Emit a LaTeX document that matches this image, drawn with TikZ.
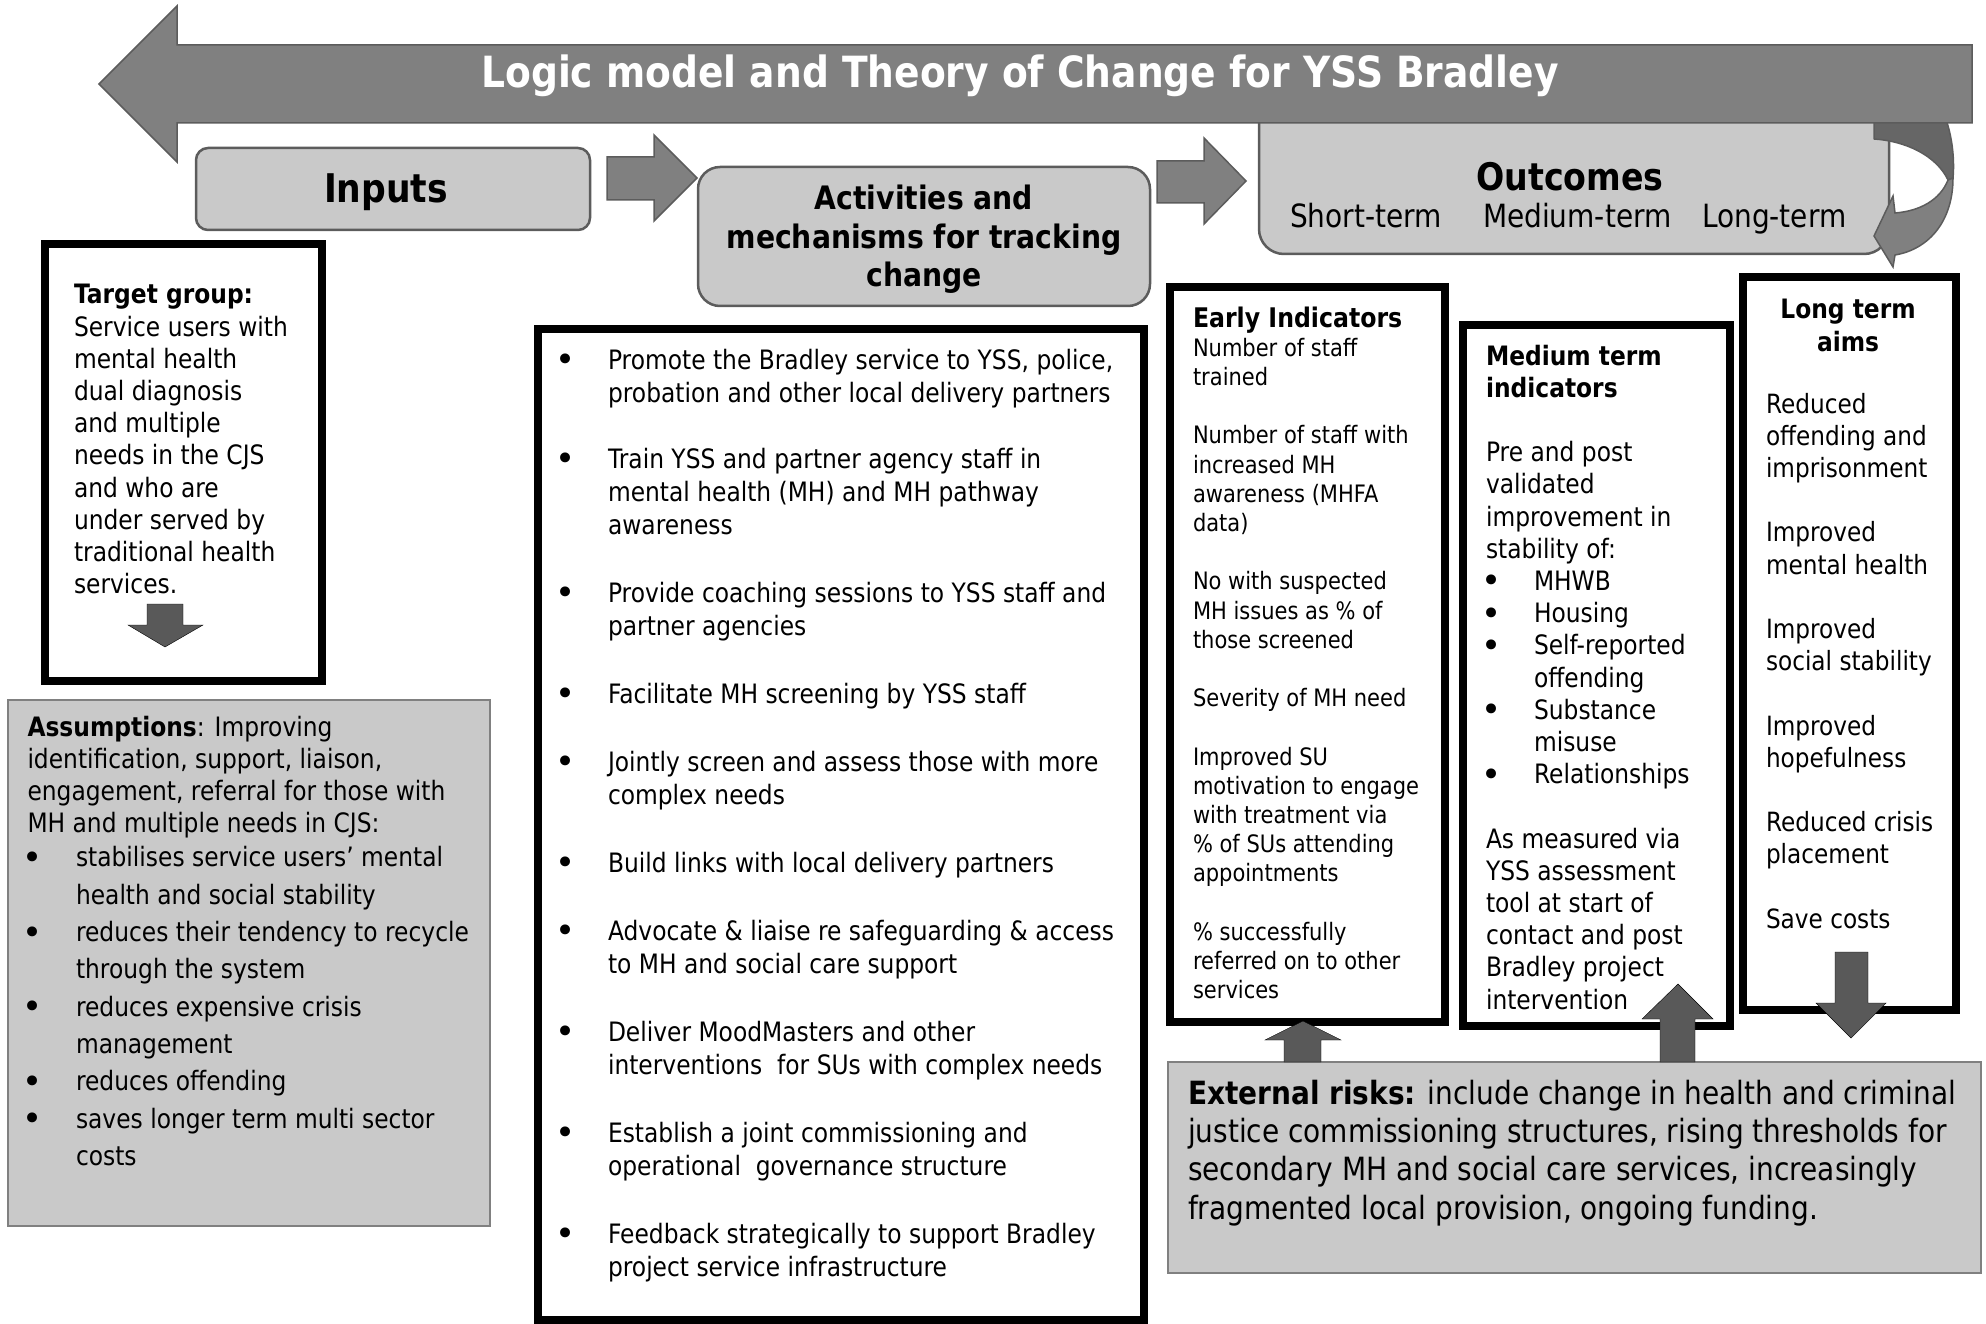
\documentclass[tikz,border=0pt]{standalone}
\usepackage{fontspec}
\setmainfont{DejaVu Sans}[FakeStretch=0.875]
\newfontfamily\dotfont{DejaVu Sans}
\definecolor{arrowgray}{RGB}{128,128,128}
\definecolor{edgegray}{RGB}{92,92,92}
\definecolor{panelgray}{RGB}{201,201,201}
\definecolor{solidgray}{RGB}{89,89,89}
\definecolor{curvedark}{RGB}{102,102,102}
\newcommand{\fs}[2]{\fontsize{#1pt}{#2pt}\selectfont}
\newcommand{\bu}[1]{\makebox[#1pt][l]{\hspace*{-5pt}\raisebox{-2.5pt}{\dotfont\fontsize{34pt}{34pt}\selectfont\textbullet}}}
\newcommand{\ind}[1]{\hspace*{#1pt}}
\begin{document}
\begin{tikzpicture}[x=1pt,y=-1pt,
  headbox/.style={draw=edgegray, line width=2.5pt, fill=panelgray},
  framebox/.style={draw=black, line width=8pt},
  notebox/.style={draw=arrowgray, line width=2pt, fill=panelgray},
  blockarrow/.style={fill=arrowgray, draw=edgegray, line width=1.5pt, line join=miter},
  solidarrow/.style={fill=solidgray},
  txt/.style={inner sep=0pt, outer sep=0pt, anchor=base west},
  ctxt/.style={inner sep=0pt, outer sep=0pt, anchor=base}]
\useasboundingbox (0,0) rectangle (1986,1324);

% Outcomes header box (top edge runs under the banner arrow)
\draw[headbox, rounded corners=25pt] (1259,80) rectangle (1889,254);

% curved feedback arrow on the right of the outcomes box
\draw[fill=curvedark, draw=edgegray, line width=1.5pt, line join=round]
  (1874,112) -- (1874,139) .. controls (1905,141) and (1936,155) .. (1948,180)
  -- (1953,178) .. controls (1955,155) and (1951,130) .. (1943,112) -- cycle;
\draw[fill=arrowgray, draw=edgegray, line width=1.5pt, line join=miter]
  (1948,180) .. controls (1940,200) and (1920,211) .. (1895,213)
  -- (1893,196) -- (1874,236) -- (1893,267) -- (1895,255)
  .. controls (1930,249) and (1953,220) .. (1953,178) -- cycle;

% banner arrow with the title
\draw[blockarrow] (99,84) -- (177,6) -- (177,45) -- (1972,45) -- (1972,123)
  -- (177,123) -- (177,162) -- cycle;
\node[ctxt, text=white] (title) at (1020,88)
  {\fs{43}{50}\textbf{Logic model and Theory of Change for YSS Bradley}};

% stage headers
\draw[headbox, rounded corners=12pt] (196,148) rectangle (590,230);
\node[ctxt] (inputs) at (386,203) {\fs{39.5}{46}\textbf{Inputs}};

\draw[headbox, rounded corners=22pt] (698,167) rectangle (1150,306);
\node[ctxt] (activities) at (924,210)
  {\parbox[t]{440pt}{\centering\fs{32.3}{38.5}\textbf{Activities and\\mechanisms for tracking\\change}}};

\node[ctxt] (outcomes) at (1570,191) {\fs{38}{44}\textbf{Outcomes}};
\node[txt] (short) at (1290,228) {\fs{32}{38}Short-term};
\node[txt] (medium) at (1483,228) {\fs{32}{38}Medium-term};
\node[txt] (long) at (1702,228) {\fs{32}{38}Long-term};

% flow arrows between the stage headers
\draw[blockarrow] (607,157) -- (654,157) -- (654,135) -- (697,178)
  -- (654,221) -- (654,200) -- (607,200) -- cycle;
\draw[blockarrow] (1157,161) -- (1204,161) -- (1204,138) -- (1246,181)
  -- (1204,224) -- (1204,203) -- (1157,203) -- cycle;

% target group
\draw[framebox] (45,244) rectangle (322,681);
\node[txt] (target) at (74,304)
  {\parbox[t]{260pt}{\raggedright\fs{26.7}{32.2}\textbf{Target group:}\\Service users with\\mental health\\dual diagnosis\\and multiple\\needs in the CJS\\and who are\\under served by\\traditional health\\services.}};
\draw[solidarrow] (147,604) -- (183,604) -- (183,625) -- (203,625) -- (165,647)
  -- (128,625) -- (147,625) -- cycle;

% assumptions
\draw[notebox] (8,700) rectangle (490,1226);
\node[txt] (assumptions) at (27.5,736)
  {\parbox[t]{460pt}{\raggedright\fs{26.7}{32.2}\textbf{Assumptions}: Improving\\identification, support, liaison,\\engagement, referral for those with\\MH and multiple needs in CJS:\par\vspace{-3pt}
  \fs{26.7}{37.3}\bu{48.5}stabilises service users’ mental\\\ind{48.5}health and social stability\\
  \bu{48.5}reduces their tendency to recycle\\\ind{48.5}through the system\\
  \bu{48.5}reduces expensive crisis\\\ind{48.5}management\\
  \bu{48.5}reduces offending\\
  \bu{48.5}saves longer term multi sector\\\ind{48.5}costs}};

% activities list
\draw[framebox] (537.5,329) rectangle (1144,1320);
\node[txt] (actlist) at (560,369)
  {\parbox[t]{580pt}{\raggedright\fs{26.7}{33}%
  \bu{48}Promote the Bradley service to YSS, police,\\\ind{48}probation and other local delivery partners\\[33pt]
  \bu{48}Train YSS and partner agency staff in\\\ind{48}mental health (MH) and MH pathway\\\ind{48}awareness\\[35pt]
  \bu{48}Provide coaching sessions to YSS staff and\\\ind{48}partner agencies\\[35pt]
  \bu{48}Facilitate MH screening by YSS staff\\[35pt]
  \bu{48}Jointly screen and assess those with more\\\ind{48}complex needs\\[35pt]
  \bu{48}Build links with local delivery partners\\[35pt]
  \bu{48}Advocate \& liaise re safeguarding \& access\\\ind{48}to MH and social care support\\[35pt]
  \bu{48}Deliver MoodMasters and other\\\ind{48}interventions\ \ for SUs with complex needs\\[35pt]
  \bu{48}Establish a joint commissioning and\\\ind{48}operational\ \ governance structure\\[35pt]
  \bu{48}Feedback strategically to support Bradley\\\ind{48}project service infrastructure}};

% early indicators
\draw[framebox] (1170,287) rectangle (1444.5,1022);
\node[txt] (early) at (1193,327)
  {\parbox[t]{260pt}{\raggedright\fs{24}{29.2}{\fs{27}{29.2}\textbf{Early Indicators}}\\Number of staff\\trained\\[29.2pt]
  Number of staff with\\increased MH\\awareness (MHFA\\data)\\[29.2pt]
  No with suspected\\MH issues as \% of\\those screened\\[29.2pt]
  Severity of MH need\\[29.2pt]
  Improved SU\\motivation to engage\\with treatment via\\\% of SUs attending\\appointments\\[29.2pt]
  \% successfully\\referred on to other\\services}};

% medium term indicators
\draw[framebox] (1463,325) rectangle (1730,1026);
\node[txt] (mediumind) at (1486,365)
  {\parbox[t]{250pt}{\raggedright\fs{26.7}{32.2}\textbf{Medium term}\\\textbf{indicators}\\[32.2pt]
  Pre and post\\validated\\improvement in\\stability of:\\
  \bu{48}MHWB\\\bu{48}Housing\\\bu{48}Self-reported\\\ind{48}offending\\\bu{48}Substance\\\ind{48}misuse\\\bu{48}Relationships\\[32.2pt]
  As measured via\\YSS assessment\\tool at start of\\contact and post\\Bradley project\\intervention}};

% long term aims
\draw[framebox] (1743,277) rectangle (1956,1010);
\node[ctxt] (longhead) at (1848,319)
  {\parbox[t]{200pt}{\centering\fs{26.7}{32.5}\textbf{Long term}\\\textbf{aims}}};
\node[txt] (longaims) at (1766,413)
  {\parbox[t]{200pt}{\raggedright\fs{26.5}{32.2}Reduced\\offending and\\imprisonment\\[32.2pt]
  Improved\\mental health\\[32.2pt]
  Improved\\social stability\\[32.2pt]
  Improved\\hopefulness\\[32.2pt]
  Reduced crisis\\placement\\[32.2pt]
  Save costs}};
\draw[solidarrow] (1835,952) -- (1868,952) -- (1868,1003) -- (1886,1003) -- (1851,1038)
  -- (1816,1003) -- (1835,1003) -- cycle;

% external risks
\draw[notebox] (1168,1062) rectangle (1981,1273);
\node[txt] (risks) at (1188,1104)
  {\parbox[t]{790pt}{\raggedright\fs{32}{38.4}\textbf{External risks:} include change in health and criminal\\justice commissioning structures, rising thresholds for\\secondary MH and social care services, increasingly\\fragmented local provision, ongoing funding.}};

% arrows from the risks into the indicator columns
\draw[solidarrow] (1284,1062) -- (1284,1040) -- (1265,1040) -- (1303,1021)
  -- (1341,1040) -- (1321,1040) -- (1321,1062) -- cycle;
\draw[solidarrow] (1660,1062) -- (1660,1019) -- (1642,1019) -- (1678,984)
  -- (1713,1019) -- (1695,1019) -- (1695,1062) -- cycle;
\end{tikzpicture}
\end{document}
